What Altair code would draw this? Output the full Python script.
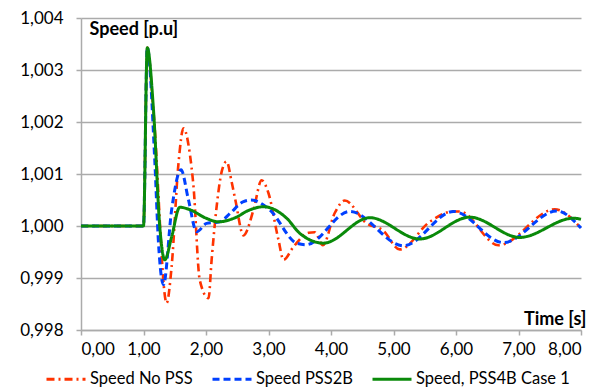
import altair as alt
import pandas as pd

series_names = ["Speed No PSS", "Speed PSS2B", "Speed, PSS4B Case 1"]
series_colors = ["#FF3300", "#0040FF", "#0A8A0A"]
series_dash = [[8, 4, 2, 4], [7, 4], [1, 0]]

t_red = [0, 1.0, 1.06, 1.16, 1.37, 1.45, 1.56, 1.64, 1.74, 1.8, 1.9, 2.04, 2.09, 2.17, 2.25, 2.33,
         2.41, 2.47, 2.6, 2.76, 2.89, 3.0, 3.16, 3.24, 3.4, 3.64, 3.74, 3.87, 4.06, 4.22, 4.57,
         4.83, 5.1, 5.58, 5.95, 6.06, 6.68, 7.58, 8.0]
v_red = [1.0, 1.0, 1.00343, 1.0022, 0.99852, 0.99922, 1.00121, 1.00188, 1.0014, 1.00076, 0.99896,
         0.99861, 0.99935, 1.00037, 1.00104, 1.00124, 1.00085, 1.0005, 0.99982, 1.00031, 1.00088,
         1.00063, 0.99973, 0.99935, 0.9996, 0.99987, 0.99988, 0.99963, 1.00025, 1.00049, 1.00005,
         0.99992, 0.99955, 1.00008, 1.00028, 1.00028, 0.99963, 1.00032, 0.99996]

t_blue = [0, 1.0, 1.06, 1.18, 1.24, 1.32, 1.45, 1.6, 1.72, 1.85, 2.01, 2.22, 2.39, 2.6, 2.72,
          3.02, 3.45, 3.6, 4.30, 5.16, 5.96, 6.76, 7.61, 8.0]
v_blue = [1.0, 1.0, 1.00343, 1.00127, 0.99967, 0.99887, 1.00031, 1.00108, 1.0005, 0.99989, 1.00005,
          1.00008, 1.00025, 1.00047, 1.0005, 1.00031, 0.99967, 0.99964, 1.00028, 0.99962, 1.00028,
          0.99968, 1.00029, 0.99996]

t_green = [0, 1.0, 1.06, 1.16, 1.26, 1.34, 1.45, 1.58, 1.75, 2.0, 2.2, 2.45, 2.7, 2.92, 3.29,
           3.5, 3.88, 4.62, 5.42, 6.22, 7.02, 7.88, 8.0]
v_green = [1.0, 1.0, 1.00343, 1.00223, 0.99999, 0.99935, 0.99979, 1.00036, 1.00031, 1.00015,
           1.00008, 1.00015, 1.00031, 1.00037, 1.00015, 0.99986, 0.99967, 1.00016, 0.99975,
           1.00017, 0.99978, 1.00015, 1.00013]

y_ticks = [0.998, 0.999, 1.000, 1.001, 1.002, 1.003, 1.004]
x_ticks = [0, 1, 2, 3, 4, 5, 6, 7, 8]

frames = []
for name, ts, vs in zip(series_names, [t_red, t_blue, t_green], [v_red, v_blue, v_green]):
    frames.append(pd.DataFrame({"t": ts, "v": vs, "series": name}))
df = pd.concat(frames, ignore_index=True)

FONT = "Lato"
GRID = "#ababab"

legend = alt.Legend(
    orient="none", legendX=-36, legendY=340, direction="horizontal", title=None,
    symbolType="stroke", symbolSize=1521, symbolStrokeWidth=3,
    labelFontSize=16.5, labelFont=FONT, labelColor="#000000", labelLimit=300,
    columnPadding=13, symbolOffset=0, labelOffset=3,
)

x_enc = alt.X("t:Q", scale=alt.Scale(domain=[0, 8], nice=False, zero=False),
              axis=alt.Axis(values=x_ticks, grid=False, title="Time [s]",
                            labelExpr="replace(format(datum.value, '.2f'), '.', ',')",
                            titleAngle=0, titleX=505, titleY=-6, titleAlign="right",
                            titleBaseline="alphabetic", titleFontWeight="bold",
                            titleFontSize=18, titleFont=FONT,
                            labelFontSize=17, labelFont=FONT, labelPadding=6,
                            tickSize=5, labelColor="#000000"))
y_enc = alt.Y("v:Q", scale=alt.Scale(domain=[0.998, 1.004], nice=False, zero=False),
              axis=alt.Axis(values=y_ticks, grid=True, title="Speed [p.u]",
                            labelExpr="replace(format(datum.value, '.3f'), '.', ',')",
                            titleAngle=0, titleX=8, titleY=16, titleAlign="left",
                            titleBaseline="alphabetic", titleFontWeight="bold",
                            titleFontSize=18, titleFont=FONT,
                            labelFontSize=17, labelFont=FONT, labelPadding=13,
                            tickSize=5, labelColor="#000000"))

color_enc = alt.Color("series:N", scale=alt.Scale(domain=series_names, range=series_colors),
                      legend=legend)
dash_enc = alt.StrokeDash("series:N", scale=alt.Scale(domain=series_names, range=series_dash),
                          legend=legend)

layers = []
for name, w in zip(series_names, [2.6, 3, 3]):
    layers.append(
        alt.Chart(df).transform_filter(alt.datum.series == name)
        .mark_line(interpolate="monotone", strokeWidth=w)
        .encode(x=x_enc, y=y_enc, color=color_enc, strokeDash=dash_enc)
    )

chart = alt.layer(*layers).properties(
    width=500, height=312,
    autosize=alt.AutoSizeParams(type="none"),
    padding={"left": 81, "top": 18, "right": 27, "bottom": 62},
    background="white",
).configure_view(stroke=None).configure_axis(
    domainColor=GRID, tickColor=GRID, gridColor=GRID, domainWidth=1.5, gridWidth=1.5, tickWidth=1.5
)

chart.save("out.html", embed_options={"renderer": "svg", "actions": False})
